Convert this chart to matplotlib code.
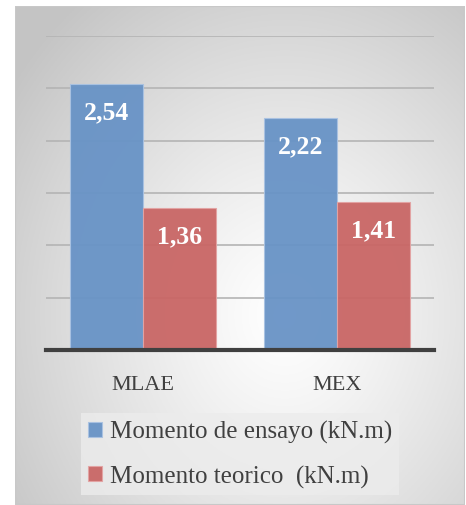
import numpy as np
import matplotlib.pyplot as plt
from matplotlib.patches import Rectangle

categorias = ['MLAE', 'MEX']
momento_ensayo = [2.54, 2.22]
momento_teorico = [1.36, 1.41]
series = ['Momento de ensayo (kN.m)', 'Momento teorico  (kN.m)']

azul = '#6893c6'
rojo = '#c96665'
texto = '#404040'

plt.rcParams['font.family'] = ['Liberation Serif', 'DejaVu Serif']

fig = plt.figure(figsize=(4.66, 5.06), dpi=100)

# fondo con degradado radial
fondo = fig.add_axes([15 / 466, 0, 450 / 466, 499 / 506])
ny, nx = 300, 300
yy, xx = np.mgrid[0:1:ny * 1j, 0:1:nx * 1j]
r = np.sqrt(((xx - 0.6) / 0.75) ** 2 + ((yy - 0.62) / 0.8) ** 2)
t = np.clip(r, 0, 1) ** 1.2
gris = 1 - 0.23 * t
img = np.dstack([gris, gris, gris])
fondo.imshow(img, extent=[0, 1, 0, 1], aspect='auto', origin='upper')
fondo.add_patch(Rectangle((0, 0), 1, 1, transform=fondo.transAxes, fill=False,
                          edgecolor='#c8c8c8', linewidth=1.5))
fondo.set_axis_off()

ax = fig.add_axes([46 / 466, 155 / 506, 388 / 466, 314 / 506])
ax.set_facecolor('none')

x = np.arange(len(categorias))
ancho = 0.376
b1 = ax.bar(x - ancho / 2, momento_ensayo, ancho, color=azul, alpha=0.95,
            edgecolor='#a9c2e2', linewidth=0.8, label=series[0], zorder=2)
b2 = ax.bar(x + ancho / 2, momento_teorico, ancho, color=rojo, alpha=0.95,
            edgecolor='#e3a3a3', linewidth=0.8, label=series[1], zorder=2)

for barras, valores in [(b1, momento_ensayo), (b2, momento_teorico)]:
    for barra, v in zip(barras, valores):
        ax.annotate(f'{v:.2f}'.replace('.', ','),
                    (barra.get_x() + barra.get_width() / 2, v),
                    xytext=(0, -20), textcoords='offset points', ha='center', va='center',
                    color='white', fontsize=18.5, fontweight='bold', zorder=4)

ax.set_ylim(0, 3)
ax.set_xlim(-0.5, 1.5)
ax.set_yticks(np.arange(0, 3.01, 0.5))
ax.yaxis.grid(True, color='#b4b4b4', linewidth=1.2, zorder=1)
ax.set_axisbelow(True)
ax.tick_params(axis='y', left=False, labelleft=False)
ax.tick_params(axis='x', length=0, pad=18, labelsize=16, labelcolor=texto)
ax.set_xticks(x)
ax.set_xticklabels(categorias)
for s in ['top', 'right', 'left']:
    ax.spines[s].set_visible(False)
ax.spines['bottom'].set_color('#404040')
ax.spines['bottom'].set_linewidth(3)
ax.spines['bottom'].set_zorder(5)

leg = fig.legend(handles=[b1, b2], loc='center', bbox_to_anchor=(240 / 466, 1 - 455 / 506),
                 frameon=True, fontsize=18, labelcolor=texto, handlelength=0.55,
                 handleheight=0.55, handletextpad=0.3, labelspacing=0.85,
                 borderpad=0.3, fancybox=False)
leg.get_frame().set_facecolor('#ececec')
leg.get_frame().set_edgecolor('none')
leg.get_frame().set_alpha(0.8)

fig.savefig('out.png', dpi=100)
